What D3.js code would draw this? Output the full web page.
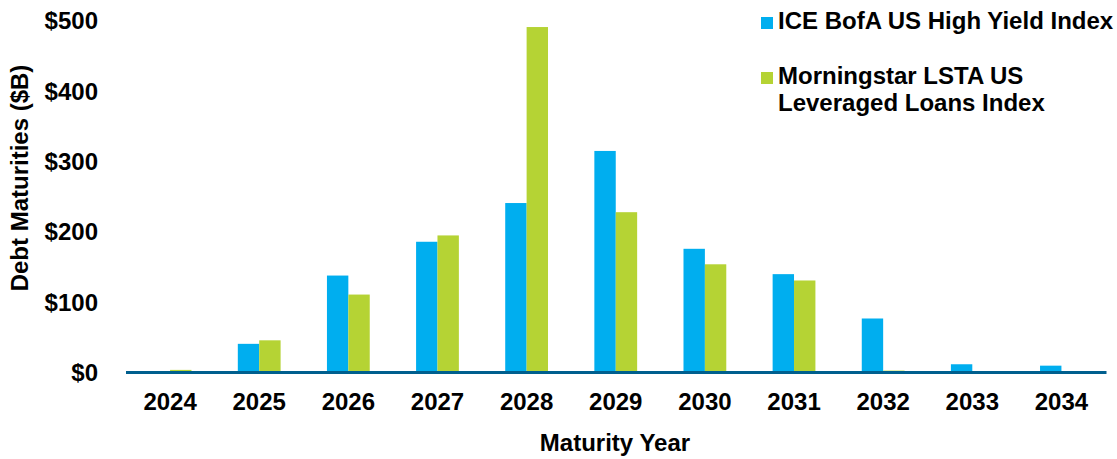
<!DOCTYPE html>
<html>
<head>
<meta charset="utf-8">
<script src="https://cdn.jsdelivr.net/npm/d3@7"></script>
<style>
  body { margin: 0; background: #fff; }
  text { font-family: "Liberation Sans", Arial, sans-serif; font-weight: bold; fill: #000; }
</style>
</head>
<body>
<svg id="main_svg" width="1117" height="459"></svg>
<script>
// data
const years = ["2024", "2025", "2026", "2027", "2028", "2029", "2030", "2031", "2032", "2033", "2034"];
const highYield = [0, 40, 137, 185, 240, 314, 175, 139, 76, 11, 9];
const levLoans = [3, 45, 110, 194, 490, 227, 153, 130, 2, 0, 0];
const seriesNames = ["ICE BofA US High Yield Index", "Morningstar LSTA US Leveraged Loans Index"];
const yTicks = [0, 100, 200, 300, 400, 500];

const colors = ["#00AEEF", "#B5D334"];
const fontSize = 24;

const svg = d3.select("#main_svg");

const x = d3.scaleBand().domain(years).range([125.5, 1106]).paddingInner(0.52).paddingOuter(0.26);
const xInner = d3.scaleBand().domain([0, 1]).range([0, x.bandwidth()]);
const y = d3.scaleLinear().domain([0, 500]).range([372, 20]);

const rows = years.map((yr, i) => ({year: yr, vals: [highYield[i], levLoans[i]]}));

// bars
const groups = svg.append("g").selectAll("g").data(rows).enter().append("g")
  .attr("transform", d => "translate(" + x(d.year) + ",0)");
groups.selectAll("rect").data(d => d.vals.map((v, k) => ({v: v, k: k}))).enter().append("rect")
  .attr("x", d => xInner(d.k))
  .attr("width", xInner.bandwidth())
  .attr("y", d => y(d.v))
  .attr("height", d => y(0) - y(d.v))
  .attr("fill", d => colors[d.k]);

// x axis
const xAxis = svg.append("g").attr("transform", "translate(0," + y(0) + ")")
  .call(d3.axisBottom(x).tickSize(0).tickPadding(21));
xAxis.select(".domain").attr("stroke", "#005F8E").attr("stroke-width", 3);
xAxis.selectAll("text").attr("font-size", fontSize).attr("font-family", null);

// y axis, labels only
const yAxis = svg.append("g").attr("transform", "translate(98,0)")
  .call(d3.axisLeft(y).tickValues(yTicks).tickSize(0).tickPadding(0).tickFormat(d => "$" + d));
yAxis.select(".domain").remove();
yAxis.selectAll("text").attr("font-size", fontSize).attr("font-family", null).attr("dy", "0.36em");

// axis titles
svg.append("text").attr("x", 615).attr("y", 451).attr("text-anchor", "middle")
  .attr("font-size", fontSize).text("Maturity Year");
svg.append("text").attr("transform", "translate(28,178) rotate(-90)").attr("text-anchor", "middle")
  .attr("font-size", fontSize).text("Debt Maturities ($B)");

// legend
const legend = svg.append("g").attr("transform", "translate(761,0)");
legend.append("rect").attr("x", 0).attr("y", 17).attr("width", 12).attr("height", 12).attr("fill", colors[0]);
legend.append("text").attr("x", 17).attr("y", 29).attr("font-size", fontSize).text(seriesNames[0]);
legend.append("rect").attr("x", 0).attr("y", 72).attr("width", 12).attr("height", 12).attr("fill", colors[1]);
legend.append("text").attr("x", 17).attr("y", 84).attr("font-size", fontSize).text("Morningstar LSTA US");
legend.append("text").attr("x", 17).attr("y", 111).attr("font-size", fontSize).text("Leveraged Loans Index");
</script>
</body>
</html>
